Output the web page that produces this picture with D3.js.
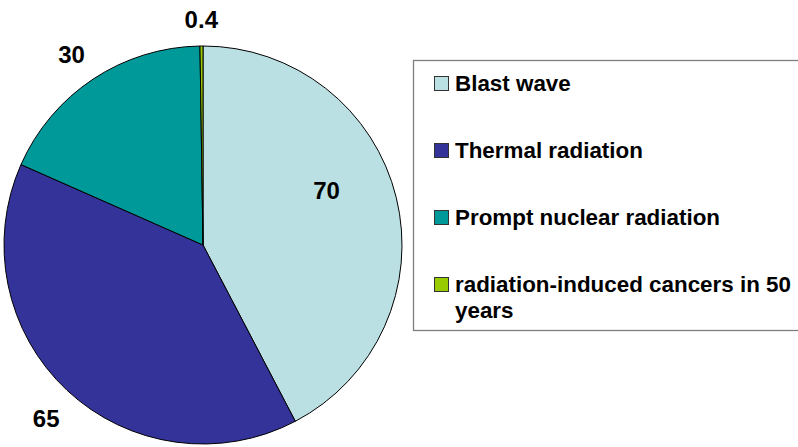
<!DOCTYPE html>
<html>
<head>
<meta charset="utf-8">
<script src="https://cdn.jsdelivr.net/npm/d3@7/dist/d3.min.js"></script>
<style>
  html, body { margin: 0; padding: 0; background: #fff; }
  svg { display: block; }
  text { font-family: "Liberation Sans", Arial, sans-serif; font-weight: bold; fill: #000; }
</style>
</head>
<body>
<svg id="chart" width="798" height="447"></svg>
<script>
// Deaths by effect (share of casualties)
const categories = ["Blast wave", "Thermal radiation", "Prompt nuclear radiation", "radiation-induced cancers in 50 years"];
const values = [70, 65, 30, 0.4];
const valueLabels = ["70", "65", "30", "0.4"];
const colors = ["#BBE0E3", "#333399", "#009999", "#99CC00"];

// label placement: distance from centre and angular nudge (degrees)
const labelRadius = [135, 234, 232, 226];
const labelNudge = [-10, -1, -1, 0];

const svg = d3.select("#chart");
const cx = 203, cy = 245, R = 199;

const pie = d3.pie().sort(null).value(d => d.value);
const arcs = pie(categories.map((c, i) => ({ name: c, value: values[i], label: valueLabels[i], color: colors[i], i })));
const arc = d3.arc().innerRadius(0).outerRadius(R);

const g = svg.append("g").attr("transform", `translate(${cx},${cy})`);
g.selectAll("path.slice")
  .data(arcs)
  .join("path")
  .attr("class", "slice")
  .attr("d", arc)
  .attr("fill", d => d.data.color)
  .attr("stroke", "#000")
  .attr("stroke-width", 1);

g.selectAll("text.val")
  .data(arcs)
  .join("text")
  .attr("class", "val")
  .attr("text-anchor", "middle")
  .attr("dy", "0.36em")
  .attr("font-size", 24)
  .attr("x", d => {
    const a = (d.startAngle + d.endAngle) / 2 + labelNudge[d.data.i] * Math.PI / 180;
    return Math.sin(a) * labelRadius[d.data.i];
  })
  .attr("y", d => {
    const a = (d.startAngle + d.endAngle) / 2 + labelNudge[d.data.i] * Math.PI / 180;
    return -Math.cos(a) * labelRadius[d.data.i];
  })
  .text(d => d.data.label);

// Legend
const legend = svg.append("g");
legend.append("rect")
  .attr("x", 413.5).attr("y", 60.5)
  .attr("width", 400).attr("height", 270)
  .attr("fill", "#fff")
  .attr("stroke", "#7f7f7f")
  .attr("stroke-width", 1.3);

const legendLines = [["Blast wave"], ["Thermal radiation"], ["Prompt nuclear radiation"], ["radiation-induced cancers in 50", "years"]];
const rowStep = 67, rowTop = 76;
const item = legend.selectAll("g.item")
  .data(categories.map((c, i) => ({ name: c, color: colors[i], lines: legendLines[i], i })))
  .join("g")
  .attr("class", "item")
  .attr("transform", d => `translate(0,${rowTop + d.i * rowStep})`);

item.append("rect")
  .attr("x", 434.5).attr("y", 0.5)
  .attr("width", 14).attr("height", 14)
  .attr("fill", d => d.color)
  .attr("stroke", "#333")
  .attr("stroke-width", 1);

item.each(function(d) {
  const t = d3.select(this).append("text")
    .attr("font-size", 22.4)
    .attr("x", 455)
    .attr("y", 14.5);
  d.lines.forEach((ln, k) => {
    t.append("tspan").attr("x", 455).attr("dy", k === 0 ? 0 : 26).text(ln);
  });
});
</script>
</body>
</html>
